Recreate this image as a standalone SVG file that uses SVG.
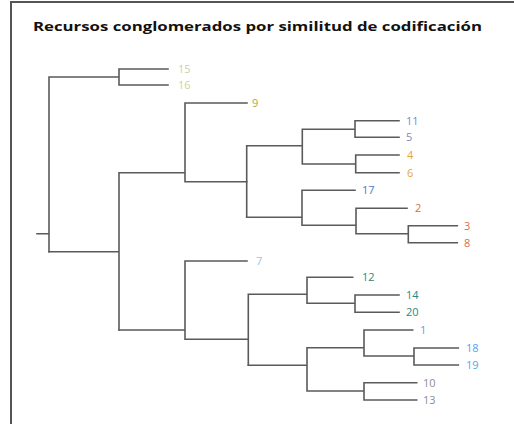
<svg xmlns="http://www.w3.org/2000/svg" width="514" height="424" viewBox="0 0 514 424">
<style>
.frame{stroke:#555;fill:none}
.br{stroke:#5a5a5a;stroke-width:1.6;fill:none;stroke-linecap:square}
.lbl{font-family:"Open Sans","Noto Sans",sans-serif;font-size:11px}
.title{font-family:"Open Sans","Noto Sans",sans-serif;font-size:13px;font-weight:bold;fill:#111}
</style>
<rect width="514" height="424" fill="#fff"/>
<path class="frame" d="M11,424V2H514" stroke-width="2"/>
<text class="title" x="33" y="31" textLength="449" lengthAdjust="spacingAndGlyphs">Recursos conglomerados por similitud de codificación</text>
<g id="connectors">
<path class="br" d="M37,233.7H49 M49,77V251.7 M49,77H119 M119,69V85 M119,69H168 M119,85H168"/>
<path class="br" d="M49,251.7H119 M119,172.7V330 M119,172.7H185 M185,103V181.7 M185,103H247 M185,181.7H246.7"/>
<path class="br" d="M246.7,145.7V217.3 M246.7,145.7H302.3 M302.3,129.3V164 M302.3,129.3H355 M355,120.7V137.3 M355,120.7H399 M355,137.3H399 M302.3,164H355.7 M355.7,155V172.7 M355.7,155H399 M355.7,172.7H399"/>
<path class="br" d="M246.7,217.3H302 M302,190.3V225.3 M302,190.3H355 M302,225.3H356 M356,208.3V233.7 M356,208.3H407 M356,233.7H408.3 M408.3,225.7V242.7 M408.3,225.7H457.3 M408.3,242.7H457.3"/>
<path class="br" d="M119,330H185 M185,261V339.3 M185,261H247 M185,339.3H248.3 M248.3,294.3V365.3 M248.3,294.3H307 M307,277.3V303.3 M307,277.3H352.7 M307,303.3H355 M355,295V312.3 M355,295H399 M355,312.3H399"/>
<path class="br" d="M248.3,365.3H307 M307,347.7V391 M307,347.7H364 M364,330V356 M364,330H412.7 M364,356H414 M414,348V365 M414,348H458.3 M414,365H458.3 M307,391H364 M364,382.7V400 M364,382.7H416.7 M364,400H416.7"/>
</g>
<g id="leaf-15"><text class="lbl" x="178" y="73" fill="#d2cf9c">15</text></g>
<g id="leaf-16"><text class="lbl" x="178" y="89" fill="#d2cf9c">16</text></g>
<g id="leaf-9"><text class="lbl" x="252" y="107" fill="#a7a94c">9</text></g>
<g id="leaf-11"><text class="lbl" x="406" y="124.7" fill="#8585c2">11</text></g>
<g id="leaf-5"><text class="lbl" x="406" y="141.3" fill="#8585c2">5</text></g>
<g id="leaf-4"><text class="lbl" x="407" y="159" fill="#e2a63c">4</text></g>
<g id="leaf-6"><text class="lbl" x="407" y="176.7" fill="#e2a63c">6</text></g>
<g id="leaf-17"><text class="lbl" x="362" y="194.3" fill="#4a78cf">17</text></g>
<g id="leaf-2"><text class="lbl" x="415" y="212.3" fill="#d2704c">2</text></g>
<g id="leaf-3"><text class="lbl" x="464" y="229.7" fill="#d2704c">3</text></g>
<g id="leaf-8"><text class="lbl" x="464" y="246.7" fill="#d2704c">8</text></g>
<g id="leaf-7"><text class="lbl" x="256" y="265" fill="#92c8ef">7</text></g>
<g id="leaf-12"><text class="lbl" x="362" y="281.3" fill="#2b8780">12</text></g>
<g id="leaf-14"><text class="lbl" x="406" y="299" fill="#2b8780">14</text></g>
<g id="leaf-20"><text class="lbl" x="406" y="316.3" fill="#2b8780">20</text></g>
<g id="leaf-1"><text class="lbl" x="420" y="334" fill="#4fa6f0">1</text></g>
<g id="leaf-18"><text class="lbl" x="466" y="352" fill="#4fa6f0">18</text></g>
<g id="leaf-19"><text class="lbl" x="466" y="369" fill="#4fa6f0">19</text></g>
<g id="leaf-10"><text class="lbl" x="423" y="386.7" fill="#8e8e8e">10</text></g>
<g id="leaf-13"><text class="lbl" x="423" y="404" fill="#8e8e8e">13</text></g>
</svg>
